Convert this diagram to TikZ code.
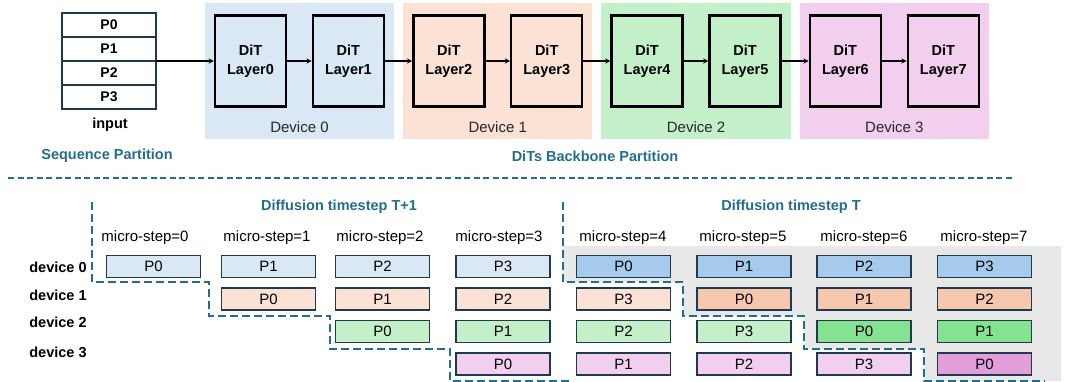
\documentclass[tikz,border=0pt]{standalone}
\usepackage{fontspec}
\setmainfont{Liberation Sans}
\usepackage{xcolor}
\definecolor{TitleTeal}{HTML}{236D8E}
\definecolor{EdgeNavy}{HTML}{1F3A4D}
\definecolor{DevBlue}{HTML}{DAE8F6}
\definecolor{DevOrange}{HTML}{FBE2D5}
\definecolor{DevGreen}{HTML}{C3F0C8}
\definecolor{DevPink}{HTML}{F2CFEE}
\definecolor{ActBlue}{HTML}{A6CAEC}
\definecolor{ActOrange}{HTML}{F6C6AD}
\definecolor{ActGreen}{HTML}{84E291}
\definecolor{ActPink}{HTML}{E49EDC}
\definecolor{ShadeGray}{HTML}{E8E8E8}
\usetikzlibrary{arrows.meta, positioning, fit, backgrounds}
\tikzset{
  % Box styles
  layerbox/.style={rectangle, draw=black, line width=2.4pt, minimum width=71pt, minimum height=91pt, font=\fontsize{14.5}{19}\selectfont\bfseries, align=center},
  inputbox/.style={rectangle, draw=EdgeNavy, line width=2pt, minimum width=94pt, minimum height=24pt, inner sep=0pt, outer sep=0pt, font=\fontsize{14}{16}\selectfont\bfseries},
  devicebg/.style={rectangle, inner xsep=9pt, inner ysep=21.5pt, yshift=-10pt},
  cellbox/.style={rectangle, draw=EdgeNavy, line width=1.3pt, minimum width=94pt, minimum height=22pt, inner sep=0pt, font=\fontsize{15}{17}\selectfont},
  % Text styles
  devlabel/.style={font=\fontsize{15}{17}\selectfont, text=black!85},
  steplabel/.style={font=\fontsize{15}{17}\selectfont},
  rowlabel/.style={font=\fontsize{14.5}{16}\selectfont\bfseries},
  titlelabel/.style={font=\fontsize{14.5}{16}\selectfont\bfseries, text=TitleTeal},
  % Line styles
  arrow/.style={->, >=stealth, line width=1.3pt},
  sepline/.style={TitleTeal, line width=1.3pt, dash pattern=on 6pt off 3.5pt},
  stairline/.style={TitleTeal, line width=1.7pt, dash pattern=on 8pt off 4pt}
}

\begin{document}
\begin{tikzpicture}[x=1pt, y=-1pt]
  \useasboundingbox (0,0) rectangle (1067,381);

  % Input sequence
  \node[inputbox] (inp0) at (109,25) {P0};
  \node[inputbox, below=0pt of inp0] (inp1) {P1};
  \node[inputbox, below=0pt of inp1] (inp2) {P2};
  \node[inputbox, below=0pt of inp2] (inp3) {P3};
  \node[rowlabel] (inplab) at (110,125) {input};
  \node[titlelabel] (seqpart) at (107,156) {Sequence Partition};

  % DiT layers
  \node[layerbox] (layer0) at (250.5,61) {DiT\\Layer0};
  \node[layerbox, right=24.5pt of layer0] (layer1) {DiT\\Layer1};
  \node[layerbox, right=27pt of layer1] (layer2) {DiT\\Layer2};
  \node[layerbox, right=24.5pt of layer2] (layer3) {DiT\\Layer3};
  \node[layerbox, right=27pt of layer3] (layer4) {DiT\\Layer4};
  \node[layerbox, right=24.5pt of layer4] (layer5) {DiT\\Layer5};
  \node[layerbox, right=27pt of layer5] (layer6) {DiT\\Layer6};
  \node[layerbox, right=24.5pt of layer6] (layer7) {DiT\\Layer7};

  \begin{scope}[on background layer]
    \node[devicebg, fill=DevBlue, fit=(layer0)(layer1)] (dev0) {};
    \node[devicebg, fill=DevOrange, fit=(layer2)(layer3)] (dev1) {};
    \node[devicebg, fill=DevGreen, fit=(layer4)(layer5)] (dev2) {};
    \node[devicebg, fill=DevPink, fit=(layer6)(layer7)] (dev3) {};
  \end{scope}
  \node[devlabel] at ([yshift=12pt]dev0.south) {Device 0};
  \node[devlabel] at ([yshift=12pt]dev1.south) {Device 1};
  \node[devlabel] at ([yshift=12pt]dev2.south) {Device 2};
  \node[devlabel] at ([yshift=12pt]dev3.south) {Device 3};

  \draw[arrow] (inp1.south east) -- (inp1.south east -| layer0.west);
  \draw[arrow] (layer0) -- (layer1);
  \draw[arrow] (layer1) -- (layer2);
  \draw[arrow] (layer2) -- (layer3);
  \draw[arrow] (layer3) -- (layer4);
  \draw[arrow] (layer4) -- (layer5);
  \draw[arrow] (layer5) -- (layer6);
  \draw[arrow] (layer6) -- (layer7);

  \node[titlelabel] (backpart) at (595,156) {DiTs Backbone Partition};
  \draw[sepline] (8,178) -- (1013,178);

  % Pipeline schedule
  \fill[ShadeGray] (563,246) -- (1061,246) -- (1061,381) -- (924,381) -- (924,349) -- (804,349)
    -- (804,316) -- (683,316) -- (683,282) -- (563,282) -- cycle;
  \draw[stairline] (92,202) -- (92,282) -| (209,316) -| (330,349) -| (450,381) -- (570,381);
  \draw[stairline] (563,202) -- (563,282) -| (683,316) -| (804,349) -| (924,381) -- (1045,381);

  \node[titlelabel] (tplus) at (339,207) {Diffusion timestep T+1};
  \node[titlelabel] (tcur) at (791,207) {Diffusion timestep T};

  \node[steplabel] (ms0) at (145,238) {micro-step=0};
  \node[steplabel] (ms1) at (267,238) {micro-step=1};
  \node[steplabel] (ms2) at (380,238) {micro-step=2};
  \node[steplabel] (ms3) at (499,238) {micro-step=3};
  \node[steplabel] (ms4) at (623,238) {micro-step=4};
  \node[steplabel] (ms5) at (743,238) {micro-step=5};
  \node[steplabel] (ms6) at (864,238) {micro-step=6};
  \node[steplabel] (ms7) at (984,238) {micro-step=7};

  \node[rowlabel] (row0) at (58,267) {device 0};
  \node[rowlabel] (row1) at (58,295) {device 1};
  \node[rowlabel] (row2) at (58,322) {device 2};
  \node[rowlabel] (row3) at (58,352) {device 3};

  % micro-step 0..3
  \node[cellbox, fill=DevBlue] (s0d0) at (153.5,266.5) {P0};
  \node[cellbox, fill=DevBlue] (s1d0) at (268.5,266.5) {P1};
  \node[cellbox, fill=DevOrange] (s1d1) at (268.5,299) {P0};
  \node[cellbox, fill=DevBlue] (s2d0) at (382.5,266.5) {P2};
  \node[cellbox, fill=DevOrange] (s2d1) at (382.5,299) {P1};
  \node[cellbox, fill=DevGreen] (s2d2) at (382.5,331.5) {P0};
  \node[cellbox, fill=DevBlue] (s3d0) at (503,266.5) {P3};
  \node[cellbox, fill=DevOrange] (s3d1) at (503,299) {P2};
  \node[cellbox, fill=DevGreen] (s3d2) at (503,331.5) {P1};
  \node[cellbox, fill=DevPink] (s3d3) at (503,364) {P0};

  % micro-step 4..7
  \node[cellbox, fill=ActBlue] (s4d0) at (623.5,266.5) {P0};
  \node[cellbox, fill=DevOrange] (s4d1) at (623.5,299) {P3};
  \node[cellbox, fill=DevGreen] (s4d2) at (623.5,331.5) {P2};
  \node[cellbox, fill=DevPink] (s4d3) at (623.5,364) {P1};
  \node[cellbox, fill=ActBlue] (s5d0) at (744,266.5) {P1};
  \node[cellbox, fill=ActOrange] (s5d1) at (744,299) {P0};
  \node[cellbox, fill=DevGreen] (s5d2) at (744,331.5) {P3};
  \node[cellbox, fill=DevPink] (s5d3) at (744,364) {P2};
  \node[cellbox, fill=ActBlue] (s6d0) at (864,266.5) {P2};
  \node[cellbox, fill=ActOrange] (s6d1) at (864,299) {P1};
  \node[cellbox, fill=ActGreen] (s6d2) at (864,331.5) {P0};
  \node[cellbox, fill=DevPink] (s6d3) at (864,364) {P3};
  \node[cellbox, fill=ActBlue] (s7d0) at (984.5,266.5) {P3};
  \node[cellbox, fill=ActOrange] (s7d1) at (984.5,299) {P2};
  \node[cellbox, fill=ActGreen] (s7d2) at (984.5,331.5) {P1};
  \node[cellbox, fill=ActPink] (s7d3) at (984.5,364) {P0};
\end{tikzpicture}
\end{document}
